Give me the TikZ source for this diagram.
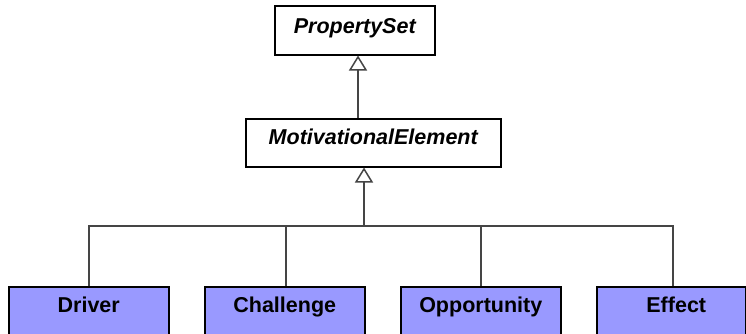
\documentclass[tikz,border=0pt]{standalone}
\usepackage{fontspec}
\setmainfont{Liberation Sans}
\usetikzlibrary{arrows.meta}
\definecolor{concfill}{HTML}{9999FF}
\definecolor{linegray}{HTML}{454545}
\begin{document}
\begin{tikzpicture}[x=1pt,y=-1pt,
  boxbase/.style={draw=black, line width=1.5pt, inner xsep=0pt, inner ysep=0pt, anchor=north west,
    font=\fontsize{21.5}{26}\selectfont\bfseries},
  absbox/.style={boxbase, fill=white, font=\fontsize{21.5}{26}\selectfont\bfseries\itshape},
  concbox/.style={boxbase, fill=concfill, minimum width=160pt, text height=26pt, text depth=30pt},
  conn/.style={draw=linegray, line width=1.5pt},
  gen/.style={conn, -{Triangle[open, length=15pt, width=18pt, line width=1.5pt]}}
]
\clip (0,0) rectangle (746,333);
\fill[white] (0,0) rectangle (746,333);

\node[absbox, minimum width=160pt, text height=28pt, text depth=21pt] (ps) at (274,5) {PropertySet};
\node[absbox, minimum width=255pt, text height=26pt, text depth=22pt] (me) at (245,118) {MotivationalElement};

\node[concbox] (drv) at (8,286) {Driver};
\node[concbox] (chl) at (204,286) {Challenge};
\node[concbox] (opp) at (400,286) {Opportunity};
\node[concbox, minimum width=149pt] (eff) at (596,286) {\hspace*{10pt}Effect};

\coordinate (ax) at (358,0);
\coordinate (tx) at (364,0);
\coordinate (hy) at (0,226);
\coordinate (ex) at (673,0);

\draw[gen] (me.north -| ax) -- (ps.south -| ax);
\draw[gen] (hy -| tx) -- (me.south -| tx);
\draw[conn] (drv.north) |- (hy -| ex) -- (eff.north -| ex);
\draw[conn] ([xshift=1pt]chl.north) -- ([xshift=1pt]chl.north |- hy);
\draw[conn] (opp.north) -- (opp.north |- hy);
\end{tikzpicture}
\end{document}
